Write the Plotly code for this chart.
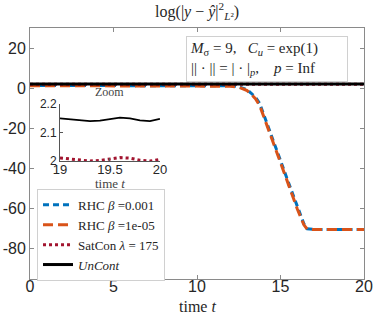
import plotly.graph_objects as go

# main time grid for the RHC runs
t_rhc = [0, 2, 4, 6, 8, 10, 11, 12, 12.5, 13, 13.25, 13.5, 13.75, 14, 14.5, 15, 15.5, 16, 16.4, 16.6, 17, 18, 19, 20]
rhc_b1 = [1.4, 1.4, 1.4, 1.4, 1.4, 1.4, 1.35, 1.2, 0.8, -0.8, -2.5, -4.5, -7.5, -13, -24.5, -36, -47.5, -59, -67.5, -70, -70.3, -70.3, -70.3, -70.3]
rhc_b2 = [1.3, 1.3, 1.3, 1.3, 1.3, 1.3, 1.2, 1.0, 0.5, -1.2, -3.0, -5.2, -8.5, -14, -25.5, -37, -48.5, -60, -68, -70.2, -70.4, -70.4, -70.4, -70.4]

# uncontrolled / saturated control (coarse part)
t_coarse = [0, 2, 4, 6, 8, 10, 12, 14, 16, 18]
uncont_coarse = [2.15, 2.15, 2.15, 2.15, 2.15, 2.15, 2.15, 2.15, 2.15, 2.15]
satcon_coarse = [2.01, 2.01, 2.01, 2.01, 2.01, 2.01, 2.01, 2.01, 2.01, 2.01]

# zoom window 19..20
t_zoom = [19.0, 19.1, 19.2, 19.3, 19.4, 19.5, 19.6, 19.7, 19.8, 19.9, 20.0]
uncont_zoom = [2.150, 2.147, 2.143, 2.140, 2.142, 2.148, 2.152, 2.150, 2.143, 2.140, 2.148]
satcon_zoom = [2.011, 2.008, 2.003, 2.000, 2.002, 2.008, 2.012, 2.010, 2.003, 2.000, 2.006]

x_ticks = [0, 5, 10, 15, 20]
y_ticks = [20, 0, -20, -40, -60, -80]
y_labels = ['20', '0', '-20', '-40', '-60', '-80']

BLUE = '#0072BD'
ORANGE = '#D95319'
RED = '#A2142F'
SERIF = 'Liberation Serif'
SANS = 'Liberation Sans'

fig = go.Figure()

fig.add_trace(go.Scatter(x=t_rhc, y=rhc_b1, mode='lines', name='RHC <i>β</i> =0.001',
                         line=dict(color=BLUE, width=3, dash='6px,4px')))
fig.add_trace(go.Scatter(x=t_rhc, y=rhc_b2, mode='lines', name='RHC <i>β</i> =1e-05',
                         line=dict(color=ORANGE, width=3, dash='10px,5px')))
fig.add_trace(go.Scatter(x=t_coarse + t_zoom, y=satcon_coarse + satcon_zoom, mode='lines',
                         name='SatCon <i>λ</i> = 175',
                         line=dict(color=RED, width=3, dash='3px,3px')))
fig.add_trace(go.Scatter(x=t_coarse + t_zoom, y=uncont_coarse + uncont_zoom, mode='lines',
                         name='<i>UnCont</i>', line=dict(color='black', width=3)))

# inset
fig.add_trace(go.Scatter(x=t_zoom, y=uncont_zoom, mode='lines', showlegend=False,
                         line=dict(color='black', width=1.8), xaxis='x2', yaxis='y2'))
fig.add_trace(go.Scatter(x=t_zoom, y=satcon_zoom, mode='lines', showlegend=False,
                         line=dict(color=RED, width=3, dash='3px,3px'), xaxis='x2', yaxis='y2'))

axis_common = dict(showline=True, linecolor='#8a8a8a', linewidth=1, mirror='ticks',
                   ticks='inside', ticklen=4, tickcolor='#8a8a8a', showgrid=False, zeroline=False,
                   automargin=False, tickfont=dict(family=SANS, size=16, color='#262626'))

fig.update_layout(
    width=374, height=322,
    margin=dict(l=30, r=10, t=28, b=43),
    paper_bgcolor='white', plot_bgcolor='white',
    title=dict(text='log(|<i>y</i> − <i>ŷ</i>|<sup>2</sup><sub><i>L</i>²</sub>)', x=0.527, xanchor='center',
               y=0.983, yanchor='top', font=dict(family=SERIF, size=16, color='#262626')),
    xaxis=dict(range=[0, 20], tickvals=x_ticks, ticklabelstandoff=-7, **axis_common),
    yaxis=dict(range=[-95, 30], tickvals=y_ticks, ticktext=y_labels, **axis_common),
    xaxis2=dict(domain=[0.0898, 0.389], anchor='y2', range=[19, 20], tickvals=[19, 19.5, 20],
                showline=True, linecolor='#555', linewidth=1, ticks='inside', ticklen=3, tickcolor='#555',
                showgrid=False, zeroline=False, automargin=False, ticklabelstandoff=-4,
                tickfont=dict(family=SANS, size=13, color='#262626')),
    yaxis2=dict(domain=[0.470, 0.697], anchor='x2', range=[2, 2.2], tickvals=[2, 2.1, 2.2],
                showline=True, linecolor='#555', linewidth=1, ticks='inside', ticklen=3, tickcolor='#555',
                showgrid=False, zeroline=False, automargin=False,
                tickfont=dict(family=SANS, size=12, color='#262626')),
    legend=dict(x=0.021, y=0.359, xanchor='left', yanchor='top', bgcolor='white',
                bordercolor='#d0d0d0', borderwidth=1, font=dict(family=SERIF, size=13, color='#262626'),
                tracegroupgap=0, itemwidth=30),
    showlegend=True,
)

fig.add_annotation(text='time <i>t</i>', x=0.5, y=-0.108, xref='paper', yref='paper', xanchor='center',
                   yanchor='middle', showarrow=False, font=dict(family=SERIF, size=16, color='#262626'))
fig.add_annotation(text='Zoom', x=0.2394, y=0.71, xref='paper', yref='paper', xanchor='center',
                   yanchor='bottom', showarrow=False, font=dict(family=SERIF, size=12, color='#444'))
fig.add_annotation(text='time <i>t</i>', x=0.2394, y=0.38, xref='paper', yref='paper', xanchor='center',
                   yanchor='middle', showarrow=False, font=dict(family=SERIF, size=13, color='#444'))
fig.add_annotation(
    text='<i>M</i><sub>σ</sub> = 9,   <i>C</i><sub><i>u</i></sub> = exp(1)&nbsp;&nbsp;&nbsp;&nbsp;&nbsp;&nbsp;&nbsp;<br>|| · || = | · |<sub><i>p</i></sub>,    <i>p</i> = Inf',
    x=0.467, y=0.968, xref='paper', yref='paper', xanchor='left', yanchor='top', align='left',
    showarrow=False, bgcolor='white', bordercolor='#d0d0d0', borderwidth=1, borderpad=3,
    font=dict(family=SERIF, size=15, color='#262626'))

# page body has a default 8px margin; drop it so the figure sits at the corner
fig.write_html('out.html', config={'displayModeBar': False},
               post_script="document.body.style.margin='0';")
